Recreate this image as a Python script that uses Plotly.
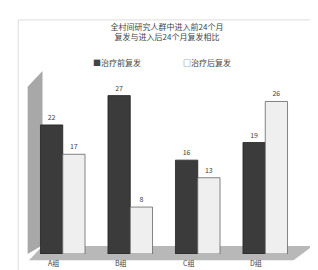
import plotly.graph_objects as go

categories = ["A组", "B组", "C组", "D组"]
before = [22, 27, 16, 19]
after = [17, 8, 13, 26]
series_names = ["治疗前复发", "治疗后复发"]
legend_marks = ["■", "□"]
title_text = "全村间研究人群中进入前24个月<br>复发与进入后24个月复发相比"

fig = go.Figure()
fig.add_trace(go.Bar(
    x=categories, y=before, name=series_names[0],
    marker=dict(color="#3b3b3b", line=dict(color="#222", width=0.8)),
    text=before, textposition="outside",
    textfont=dict(size=7, color="#444"), cliponaxis=False,
))
fig.add_trace(go.Bar(
    x=categories, y=after, name=series_names[1],
    marker=dict(color="#efefef", line=dict(color="#666", width=0.8)),
    text=after, textposition="outside",
    textfont=dict(size=7, color="#444"), cliponaxis=False,
))

# legend drawn as text entries (symbol glyph adjacent to name, as in reference)
for mark, name, xp in zip(legend_marks, series_names, [0.23, 0.563]):
    fig.add_annotation(x=xp, y=1.09, xref="paper", yref="paper",
                       text=mark + name, showarrow=False,
                       xanchor="left", yanchor="middle",
                       font=dict(size=8, color="#444"))

# category labels via axis-referenced annotations (shifted like the 3D render)
for c in categories:
    fig.add_annotation(x=c, y=0, xref="x", yref="y", text=c, showarrow=False,
                       yanchor="top", yshift=-2, xshift=-9,
                       font=dict(size=7, color="#444"))

# decorative 3D-ish wall and floor (paper coords)
fig.add_shape(type="path", xref="paper", yref="paper",
              path="M -0.005 0.0 L 0.05 0.05 L 0.05 1.04 L -0.005 0.95 Z",
              fillcolor="#a8a8a8", line=dict(width=0), layer="below")
fig.add_shape(type="path", xref="paper", yref="paper",
              path="M 0.0 -0.035 L 0.98 -0.035 L 1.05 0.045 L 0.05 0.045 Z",
              fillcolor="#b8b8b8", line=dict(width=0), layer="below")
# outer frame
fig.add_shape(type="rect", xref="paper", yref="paper",
              x0=-0.04, x1=1.12, y0=-0.14, y1=1.33,
              fillcolor="rgba(0,0,0,0)", line=dict(color="#dddddd", width=1))

fig.update_layout(
    width=318, height=270,
    margin=dict(l=21, r=27, t=70, b=24),
    paper_bgcolor="white", plot_bgcolor="white",
    font=dict(family="Noto Sans CJK SC", color="#444"),
    title=dict(text=title_text, x=0.5, xanchor="center", y=0.92, yanchor="top",
               font=dict(size=8, color="#444")),
    barmode="group", bargap=0.34, bargroupgap=0.0,
    showlegend=False,
    xaxis=dict(showline=False, showgrid=False, ticks="", showticklabels=False),
    yaxis=dict(range=[0, 30], visible=False),
)

fig.write_html("out.html")
